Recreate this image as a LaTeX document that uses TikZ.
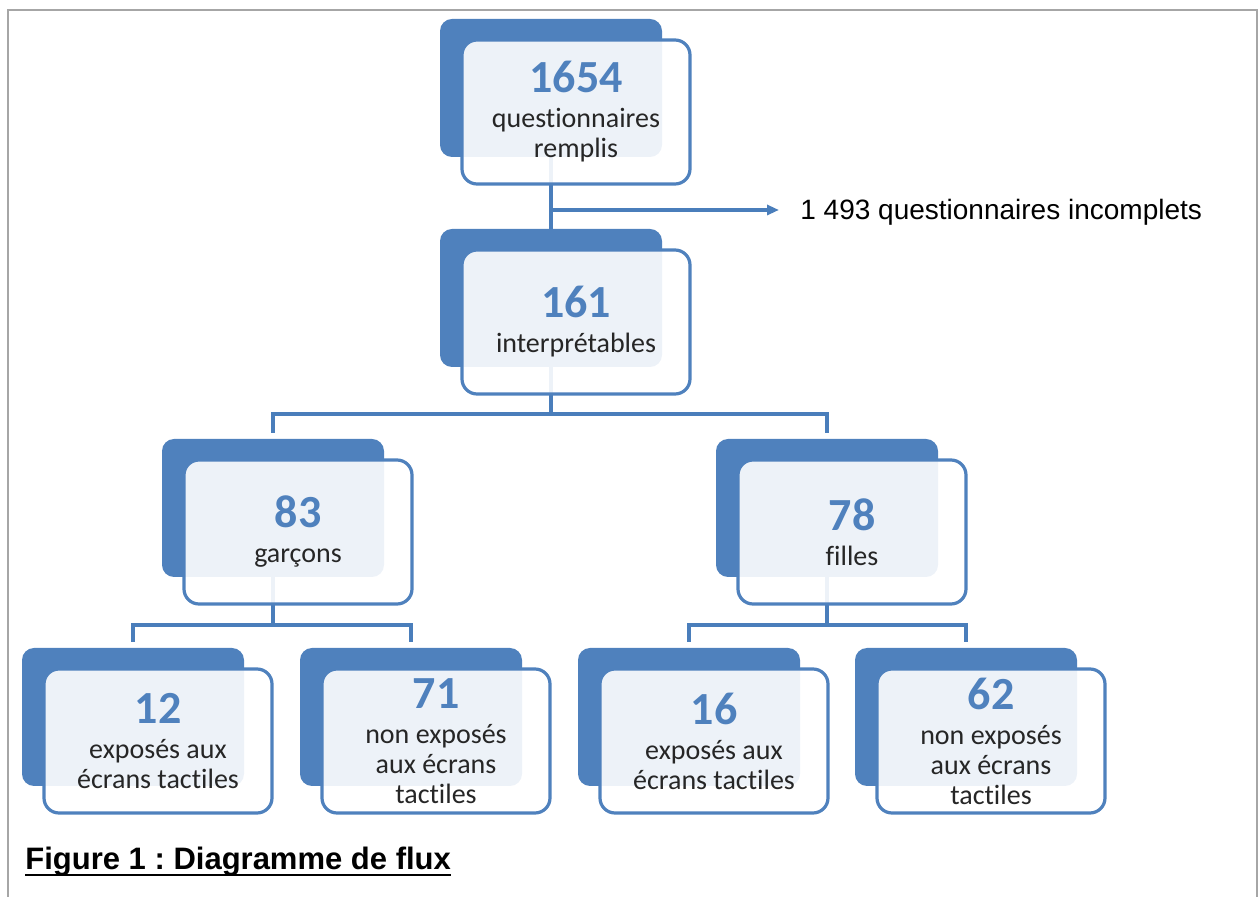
\documentclass[tikz,border=0pt]{standalone}
\usepackage{fontspec}
\setmainfont{Carlito}[Ligatures=NoCommon]
\newfontfamily\arialfont{Liberation Sans}
\usetikzlibrary{arrows.meta,calc}
\definecolor{darkblue}{HTML}{4F81BD}
\definecolor{lineblue}{HTML}{4A7EBB}
\definecolor{txtgray}{HTML}{262626}
\definecolor{framegray}{HTML}{A6A6A6}
\pgfdeclarelayer{background}
\pgfsetlayers{background,main}
\newcommand\nb[1]{{\fontsize{23}{23}\selectfont\bfseries\color{darkblue}#1}\\[2.5pt]}
\newcommand\flowgroup[4]{%
  \node[darkbox] (#1) at (#2,#3) {};
  \node[frontbox] (#1f) at (#2+25,#3+24) {#4};
}
\tikzset{
  darkbox/.style={fill=darkblue, draw=none, rounded corners=6pt, minimum width=111pt, minimum height=69pt, inner sep=0pt},
  frontbox/.style={fill=white, fill opacity=0.9, text opacity=1, draw=darkblue, draw opacity=1, line width=1.6pt, rounded corners=7.5pt, minimum width=114pt, minimum height=72pt, inner sep=0pt, align=center, font=\fontsize{14}{15}\selectfont, text=txtgray},
  conn/.style={draw=lineblue, line width=1.6pt},
  plain/.style={inner sep=0pt, anchor=base west}
}
\begin{document}
\begin{tikzpicture}[x=0.5pt,y=-0.5pt]
\useasboundingbox (0,0) rectangle (1260,897);
\draw[framegray, line width=1pt] (8,897) -- (8,10) -- (1257,10) -- (1257,897);

\flowgroup{A}{551}{88}{\nb{1654}questionnaires\\remplis}
\flowgroup{B}{551}{298}{\nb{161}interprétables}
\flowgroup{C}{273}{508}{\nb{83}garçons}
\flowgroup{D}{827}{508}{\nb{78}filles}
\flowgroup{E}{133}{717}{\nb{12}exposés aux\\écrans tactiles}
\flowgroup{F}{411}{717}{\nb{71}non exposés\\aux écrans\\tactiles}
\flowgroup{G}{689}{717}{\nb{16}exposés aux\\écrans tactiles}
\flowgroup{H}{966}{717}{\nb{62}non exposés\\aux écrans\\tactiles}

\node[plain, font=\arialfont\fontsize{14}{16}\selectfont, text=black] (inc) at (800,220) {1 493 questionnaires incomplets};
\node[plain, font=\arialfont\bfseries\fontsize{15.5}{18}\selectfont\frenchspacing, text=black] (cap) at (25,870) {Figure 1 : Diagramme de flux};
\draw[black, line width=1pt] ([yshift=-2.6pt]cap.base west) -- ([yshift=-2.6pt]cap.base east);

\begin{pgfonlayer}{background}
\coordinate (arr) at (779,210);
\coordinate (bus1) at (551,414);
\coordinate (bus2) at (273,625);
\coordinate (bus3) at (827,625);
\draw[conn] (A.south) -- (B.north);
\draw[conn,-{Triangle[length=6pt,width=5pt]}] (A.south |- arr) -- (arr);
\draw[conn] (B.south) -- (bus1);
\draw[conn] ([yshift=3pt]C.north) |- (bus1) -| ([yshift=3pt]D.north);
\draw[conn] (C.south) -- (bus2);
\draw[conn] ([yshift=3pt]E.north) |- (bus2) -| ([yshift=3pt]F.north);
\draw[conn] (D.south) -- (bus3);
\draw[conn] ([yshift=3pt]G.north) |- (bus3) -| ([yshift=3pt]H.north);
\end{pgfonlayer}
\end{tikzpicture}
\end{document}
